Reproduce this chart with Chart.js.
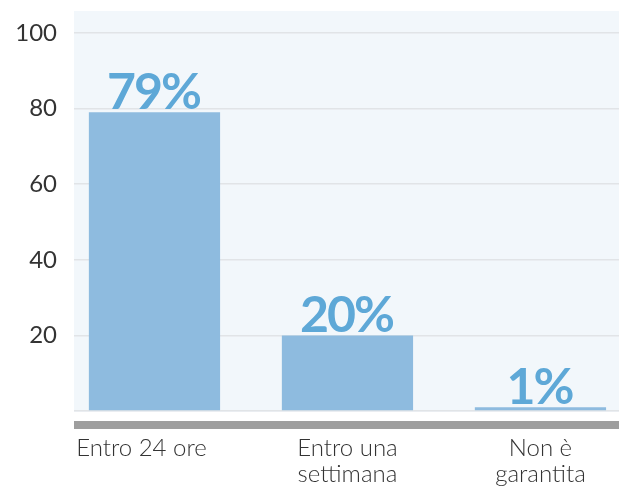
<!DOCTYPE html>
<html>
<head>
<meta charset="utf-8">
<script src="https://cdn.jsdelivr.net/npm/chart.js@4/dist/chart.umd.min.js"></script>
<style>
  html, body { margin: 0; padding: 0; background: #ffffff; }
  #wrap { width: 619px; height: 488px; }
</style>
</head>
<body>
<div id="wrap"><canvas id="c" width="619" height="488"></canvas></div>
<script>
// Categories (wrapped onto lines) and percentage values
const categories = ['Entro 24 ore    ', ['Entro una', 'settimana'], ['Non è', 'garantita']];
const values = [79, 20, 1];
const yTickValues = [0, 20, 40, 60, 80, 100];

const PLOT_BG = '#f2f7fb';
const BAR_COLOR = '#8ebbdf';
const LABEL_COLOR = '#5ea8d7';
const AXIS_BAR = '#9e9e9e';

// Plot background panel and the thick grey rule under the axis
const panelPlugin = {
  id: 'panel',
  beforeDraw(chart) {
    const { ctx, chartArea: a } = chart;
    ctx.save();
    ctx.fillStyle = '#ffffff';
    ctx.fillRect(0, 0, chart.width, chart.height);
    ctx.fillStyle = PLOT_BG;
    ctx.fillRect(a.left, a.top, a.right - a.left, a.bottom - a.top + 1);
    ctx.fillStyle = AXIS_BAR;
    ctx.fillRect(a.left, a.bottom + 10, a.right - a.left, 8);
    ctx.restore();
  }
};

// Big percentage labels sitting on top of each bar
const valueLabels = {
  id: 'valueLabels',
  afterDatasetsDraw(chart) {
    const { ctx } = chart;
    const meta = chart.getDatasetMeta(0);
    ctx.save();
    ctx.font = 'bold 50px Lato';
    ctx.letterSpacing = '-2px';
    ctx.fillStyle = LABEL_COLOR;
    ctx.textAlign = 'center';
    ctx.textBaseline = 'alphabetic';
    meta.data.forEach((bar, i) => {
      ctx.fillText(values[i] + '%', bar.x - 1, bar.y - 3);
    });
    ctx.restore();
  }
};

new Chart(document.getElementById('c'), {
  type: 'bar',
  data: {
    datasets: [{
      data: values.map((v, i) => ({ x: i, y: v })),
      backgroundColor: BAR_COLOR,
      borderWidth: 0,
      barPercentage: 0.68,
      categoryPercentage: 1
    }]
  },
  options: {
    responsive: false,
    animation: false,
    layout: { padding: { top: 11, left: 0, right: 0, bottom: 0 } },
    plugins: { legend: { display: false }, tooltip: { enabled: false } },
    scales: {
      x: {
        type: 'linear',
        offset: false,
        min: -0.417,
        max: 2.407,
        afterBuildTicks(scale) { scale.ticks = categories.map((_, i) => ({ value: i })); },
        afterFit(scale) {
          scale.height = 77;
          scale.paddingLeft = 0;
          scale.paddingRight = 0;
        },
        grid: { display: false, drawTicks: false },
        border: { display: false },
        ticks: {
          autoSkip: false,
          maxRotation: 0,
          padding: 24,
          color: '#333333',
          font: { family: 'Lato', size: 24, weight: '300', lineHeight: 1.08 },
          callback: (v) => categories[v] ?? ''
        }
      },
      y: {
        min: 0,
        max: 105.8,
        afterBuildTicks(scale) { scale.ticks = yTickValues.map(v => ({ value: v })); },
        afterFit(scale) {
          scale.width = 74;
          scale.paddingTop = 0;
          scale.paddingBottom = 0;
        },
        grid: { color: '#e1e4e7', lineWidth: 1.5, drawTicks: false },
        border: { display: false },
        ticks: {
          padding: 17,
          color: '#333333',
          font: { family: 'Lato', size: 24 },
          callback: (v) => v === 0 ? '' : v
        }
      }
    }
  },
  plugins: [panelPlugin, valueLabels]
});
</script>
</body>
</html>
